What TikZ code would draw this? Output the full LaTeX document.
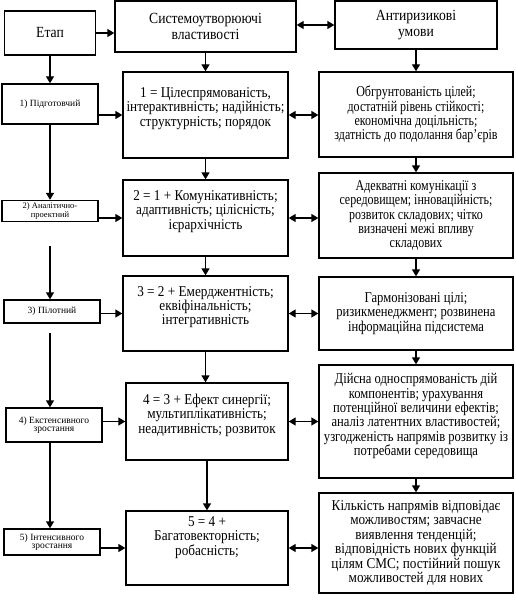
\documentclass[tikz,border=0pt]{standalone}
\usepackage{fontspec}
\setmainfont{Liberation Serif}[FakeStretch=0.88]
\newfontfamily\narrowserif{Liberation Serif}[FakeStretch=0.8]
\newfontfamily\midserif{Liberation Serif}[FakeStretch=0.84]
\newfontfamily\stagefont{Liberation Serif}
\usetikzlibrary{arrows.meta}
\tikzset{
  box/.style={draw,line width=1.4pt,align=center,font=\fontsize{15}{14.4}\selectfont,inner sep=1.5pt},
  headbox/.style={box,font=\fontsize{15.5}{16}\selectfont},
  propbox/.style={box,minimum width=165,text depth=16pt},
  riskbox/.style={box,minimum width=194},
  stagebox/.style={draw,line width=1.4pt,align=center,font=\stagefont\fontsize{9.5}{8}\selectfont,inner sep=0pt,minimum width=96},
  arr/.style={-{Triangle[length=7pt,width=8pt]},line width=1.4pt},
  darr/.style={{Triangle[length=7pt,width=8pt]}-{Triangle[length=7pt,width=8pt]},line width=1.4pt},
}
\begin{document}
\begin{tikzpicture}[x=1pt,y=-1pt]
\useasboundingbox (0,0) rectangle (515,604);
% header row
\node[headbox,minimum width=91,minimum height=44] (etap) at (50,33) {Етап};
\node[headbox,minimum width=181,minimum height=51] (sys) at (205.5,26.5) {Системоутворюючі\\властивості};
\node[headbox,minimum width=162,minimum height=48] (anti) at (416,25) {Антиризикові\\умови};
% stages
\node[stagebox,minimum height=40] (s1) at (50,104) {1) Підготовчий};
\node[stagebox,minimum height=21,font=\stagefont\fontsize{8.5}{7}\selectfont] (s2) at (50,211) {2) Аналітично-\\проектний};
\node[stagebox,minimum height=23] (s3) at (52,311.5) {3) Пілотний};
\node[stagebox,minimum height=34] (s4) at (54,425) {4) Екстенсивного\\зростання};
\node[stagebox,minimum height=26] (s5) at (52,542) {5) Інтенсивного\\зростання};
% system properties
\node[propbox,minimum height=86] (m1) at (205.5,115) {1 = Цілеспрямованість,\\інтерактивність; надійність;\\структурність; порядок};
\node[propbox,minimum height=76] (m2) at (205.5,218) {2 = 1 + Комунікативність;\\адаптивність; цілісність;\\ієрархічність};
\node[propbox,minimum height=75] (m3) at (205.5,313.5) {3 = 2 + Емерджентність;\\еквіфінальність;\\інтегративність};
\node[propbox,minimum width=162,minimum height=77] (m4) at (207,421.5) {4 = 3 + Ефект синергії;\\мультиплікативність;\\неадитивність; розвиток};
\node[propbox,minimum width=162,minimum height=74,text depth=24pt] (m5) at (207,548) {5 = 4 +\\Багатовекторність;\\робасність;};
% anti-risk conditions
\node[riskbox,minimum height=85] (r1) at (416,114.5) {\narrowserif Обгрунтованість цілей;\\\narrowserif достатній рівень стійкості;\\\narrowserif економічна доцільність;\\\narrowserif здатність до подолання бар’єрів};
\node[riskbox,minimum height=85] (r2) at (416,215.5) {\narrowserif Адекватні комунікації з\\\narrowserif середовищем; інноваційність;\\\narrowserif розвиток складових; чітко\\\narrowserif визначені межі впливу\\\narrowserif складових};
\node[riskbox,minimum height=73] (r3) at (416,313.5) {\midserif Гармонізовані цілі;\\\midserif ризикменеджмент; розвинена\\\midserif інформаційна підсистема};
\node[riskbox,minimum height=113,text depth=14pt] (r4) at (416,421.5) {\midserif Дійсна односпрямованість дій\\\midserif компонентів; урахування\\\midserif потенційної величини ефектів;\\\midserif аналіз латентних властивостей;\\\midserif узгодженість напрямів розвитку із\\\midserif потребами середовища};
\node[riskbox,minimum height=100] (r5) at (416,543) {Кількість напрямів відповідає\\можливостям; завчасне\\виявлення тенденцій;\\відповідність нових функцій\\цілям СМС; постійний пошук\\можливостей для нових};
% connectors
\draw[arr] (etap.east) -- (etap.east -| sys.west);
\draw[darr] (sys.east |- anti) -- (anti);
\foreach \a/\b in {sys/m1,m1/m2,m2/m3,m3/m4,m4/m5,anti/r1,r1/r2,r2/r3,r3/r4,r4/r5} \draw[arr] (\a.south) -- (\a.south |- \b.north);
\foreach \a/\b/\g in {etap/s1/0,s1/s2/0,s2/s3/24,s3/s4/9,s4/s5/0} \draw[arr,shorten <=\g pt] (etap.south |- \a.south) -- (etap.south |- \b.north);
\foreach \i in {1,...,5} \draw[darr] (m\i.east) -- (m\i.east -| r\i.west);
\foreach \i in {1,...,5} \draw[arr] (m\i.west -| s\i.east) -- (m\i.west);
\end{tikzpicture}
\end{document}
